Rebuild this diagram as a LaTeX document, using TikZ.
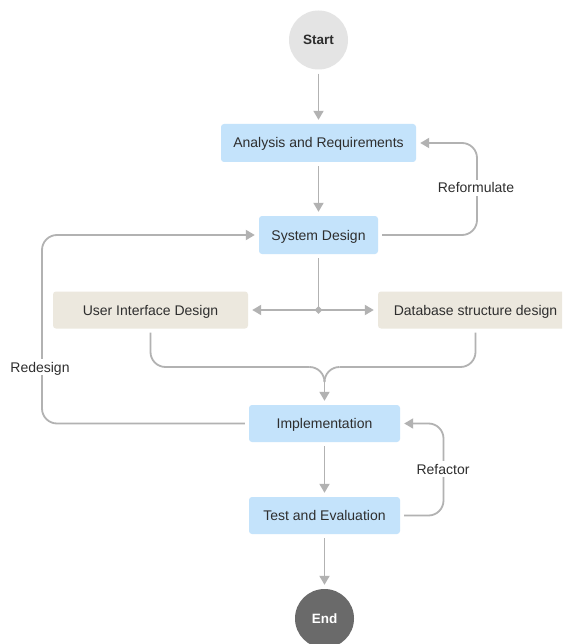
\documentclass[tikz,border=0pt]{standalone}
\usepackage{fontspec}
\setmainfont{Liberation Sans}
\usetikzlibrary{arrows.meta,shapes.geometric}
\definecolor{boxblue}{HTML}{C4E3FB}
\definecolor{boxsand}{HTML}{ECE8DE}
\definecolor{startgray}{HTML}{E4E4E4}
\definecolor{endgray}{HTML}{6A6A6A}
\definecolor{linegray}{HTML}{B2B2B2}
\definecolor{ink}{HTML}{2E2E2E}
\tikzset{
  base/.style={inner sep=0pt, text height=10pt, text depth=0pt,
    font=\fontsize{14}{16}\selectfont, text=ink},
  bluebox/.style={base, rectangle, rounded corners=3pt, fill=boxblue, minimum height=38pt},
  sandbox/.style={base, rectangle, rounded corners=3pt, fill=boxsand, minimum height=37pt, minimum width=195pt},
  terminal/.style={base, circle, minimum size=59pt, font=\bfseries\fontsize{13.5}{16}\selectfont},
  conn/.style={draw=linegray, line width=1.8pt, -{Triangle[length=9pt,width=10pt]}, shorten <=4pt, shorten >=4pt},
  plain/.style={draw=linegray, line width=1.8pt},
  lbl/.style={base, fill=white, inner sep=3pt}
}
\begin{document}
\begin{tikzpicture}[x=1pt,y=-1pt]
  \clip (0,0) rectangle (562,644);
  \fill[white] (0,0) rectangle (562,644);

  % nodes
  \node[terminal, fill=startgray] (start) at (318.5,40) {Start};
  \node[bluebox, minimum width=195pt] (ana) at (318.5,143) {Analysis and Requirements};
  \node[bluebox, minimum width=119pt] (sys) at (318.5,235) {System Design};
  \node[sandbox] (ui) at (150.5,310) {User Interface Design};
  \node[sandbox] (db) at (475.5,310) {Database structure design};
  \node[bluebox, minimum width=151pt, minimum height=37pt] (impl) at (324.5,423.5) {Implementation};
  \node[bluebox, minimum width=151pt, minimum height=37pt] (test) at (324.5,515.5) {Test and Evaluation};
  \node[terminal, fill=endgray, text=white] (end) at (324.5,618.5) {End};

  % fork point below the system design
  \node[diamond, fill=linegray, inner sep=0pt, minimum size=8pt, text height=0pt] (fork) at (318.5,310) {};
  \coordinate (merge) at (324.5,382);

  % main flow
  \draw[conn] (start) -- (ana);
  \draw[conn] (ana) -- (sys);
  \draw[plain, shorten <=4pt] (sys.south) -- (fork.center);
  \draw[conn, shorten <=0pt] (fork.center) -- (ui.east);
  \draw[conn, shorten <=0pt] (fork.center) -- (db.west);

  % both design branches join above the implementation
  \draw[plain, rounded corners=15pt, shorten <=4pt] (ui.south) -- (150.5,367) -- (309.5,367);
  \draw[plain] (309.5,367) to[out=0,in=90] (merge);
  \draw[plain, rounded corners=15pt, shorten <=4pt] (db.south) -- (475.5,367) -- (339.5,367);
  \draw[plain] (339.5,367) to[out=180,in=90] (merge);
  \draw[conn, shorten <=0pt] (merge) -- (impl.north);

  \draw[conn] (impl) -- (test);
  \draw[conn] (test) -- (end);

  % feedback loops
  \draw[conn, rounded corners=15pt] (sys.east) -| (477,143) -- (ana.east);
  \node[lbl] at (476,188) {Reformulate};

  \draw[conn, rounded corners=15pt] (impl.west) -| (42,235) -- (sys.west);
  \node[lbl] at (40,367) {Redesign};

  \draw[conn, rounded corners=15pt] (test.east) -| (443.5,423.5) -- (impl.east);
  \node[lbl] at (443,469) {Refactor};
\end{tikzpicture}
\end{document}
